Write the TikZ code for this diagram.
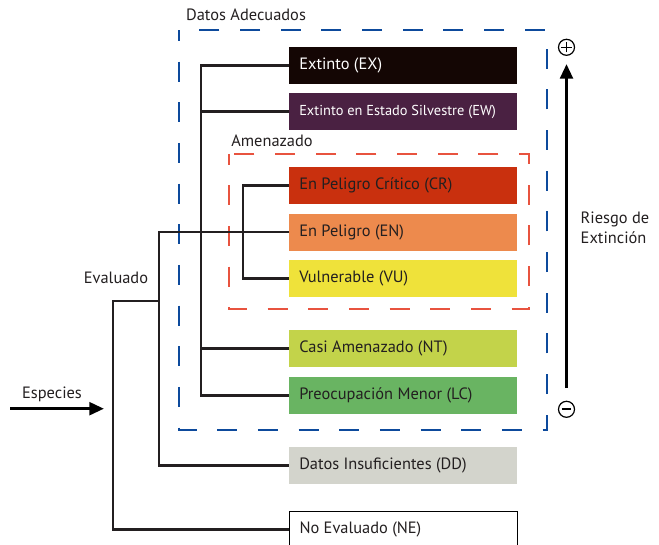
\documentclass[tikz,border=0pt]{standalone}
\usepackage{fontspec}
\setmainfont{PT Sans}
\usetikzlibrary{arrows.meta}
\definecolor{cEX}{HTML}{140604}
\definecolor{cEW}{HTML}{4A2142}
\definecolor{cCR}{HTML}{C9300E}
\definecolor{cEN}{HTML}{ED8A4D}
\definecolor{cVU}{HTML}{EFE23A}
\definecolor{cNT}{HTML}{C3D34A}
\definecolor{cLC}{HTML}{69B462}
\definecolor{cDD}{HTML}{D3D4CC}
\definecolor{cBlue}{HTML}{0D4A9C}
\definecolor{cRed}{HTML}{E8533F}
\definecolor{cText}{HTML}{231F20}
\newcommand{\boxtxt}[1]{\makebox[156pt][l]{#1}}
\tikzset{
  catbox/.style={anchor=west, minimum width=171pt, minimum height=27.75pt,
    inner xsep=7.5pt, inner ysep=0pt,
    font=\fontsize{12.3}{14}\selectfont, text=cText},
  conn/.style={line width=1.6pt, draw=cText},
  lbl/.style={font=\fontsize{12.3}{15}\selectfont, text=cText},
  dashbox/.style={line width=1.6pt, dash pattern=on 15pt off 15.5pt, dash phase=7pt},
  bigarrow/.style={line width=2.4pt, draw=black, -{Triangle[length=11pt,width=9.5pt]}},
  signc/.style={circle, draw=black, line width=0.9pt, minimum size=12pt, inner sep=0pt}
}
\begin{document}
\begin{tikzpicture}[x=0.75pt,y=-0.75pt]
\useasboundingbox (0,0) rectangle (659,545);
% dashed frames
\draw[dashbox, draw=cBlue] (179.3,30.3) rectangle (547,430.3);
\draw[dashbox, draw=cRed] (229,154) rectangle (529,309.3);
\node[lbl] (datos) at (246,15) {Datos Adecuados};
\node[lbl] (amen) at (272,141) {Amenazado};
% category boxes
\node[catbox, fill=cEX, text=white] (ex) at (289,65.5) {\boxtxt{Extinto (EX)}};
\node[catbox, fill=cEW, text=white, font=\fontsize{10.8}{13}\selectfont] (ew) at (289,111.5) {\boxtxt{Extinto en Estado Silvestre (EW)}};
\node[catbox, fill=cCR] (cr) at (289,185.5) {\boxtxt{En Peligro Crítico (CR)}};
\node[catbox, fill=cEN] (en) at (289,232) {\boxtxt{En Peligro (EN)}};
\node[catbox, fill=cVU] (vu) at (289,278.5) {\boxtxt{Vulnerable (VU)}};
\node[catbox, fill=cNT] (nt) at (289,348.5) {\boxtxt{Casi Amenazado (NT)}};
\node[catbox, fill=cLC] (lc) at (289,395.5) {\boxtxt{Preocupación Menor (LC)}};
\node[catbox, fill=cDD] (dd) at (289,465.5) {\boxtxt{Datos Insuficientes (DD)}};
\node[catbox, fill=white, draw=black, line width=0.75pt] (ne) at (289,529.5) {\boxtxt{No Evaluado (NE)}};
% tree connectors
\coordinate (ta) at (201,0);
\coordinate (tb) at (243,0);
\coordinate (tc) at (159,0);
\coordinate (td) at (113,0);
\coordinate (ev) at (159,301.3);
\draw[conn] (ex.west) -| (ta |- lc.west) -- (lc.west);
\draw[conn] (ew.west) -- (ew.west -| ta);
\draw[conn] (nt.west) -- (nt.west -| ta);
\draw[conn] (cr.west) -| (tb |- vu.west) -- (vu.west);
\draw[conn] (en.west) -- (en.west -| tc) |- (dd.west);
\draw[conn] (ev) -| (td |- ne.west) -- (ne.west);
\node[lbl] (evlbl) at (116,278) {Evaluado};
% species arrow
\coordinate (sp0) at (10,408.7);
\coordinate (sp1) at (104,408.7);
\draw[bigarrow] (sp0) -- (sp1);
\node[lbl] (esp) at (52,394) {Especies};
% risk arrow
\node[signc] (plus) at (566.5,47.3) {};
\draw[line width=0.9pt] ([xshift=-3.8pt]plus.center) -- ([xshift=3.8pt]plus.center)
  ([yshift=-3.8pt]plus.center) -- ([yshift=3.8pt]plus.center);
\node[signc] (minus) at (566.5,409.3) {};
\draw[line width=1.4pt] ([xshift=-3.5pt]minus.center) -- ([xshift=3.5pt]minus.center);
\coordinate (r0) at (566.5,388);
\coordinate (r1) at (566.5,64);
\draw[bigarrow] (r0) -- (r1);
\node[lbl, anchor=west, align=left] (riesgo) at (576,228) {Riesgo de\\Extinción};
\end{tikzpicture}
\end{document}
